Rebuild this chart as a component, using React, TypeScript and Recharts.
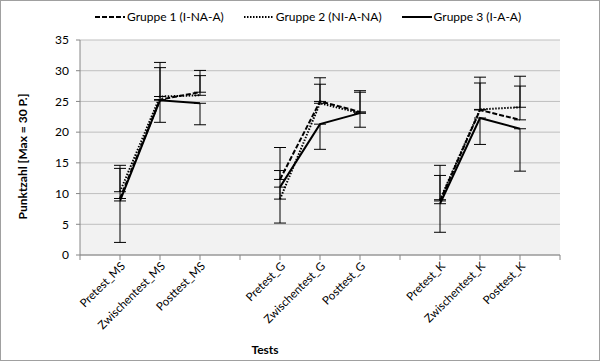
import { LineChart, Line, XAxis, YAxis, CartesianGrid, ErrorBar, Label } from 'recharts'

const categories = ['', 'Pretest_MS', 'Zwischentest_MS', 'Posttest_MS', '', 'Pretest_G', 'Zwischentest_G', 'Posttest_G', '', 'Pretest_K', 'Zwischentest_K', 'Posttest_K', '']
const gruppe1 = [null, 9.2, 25.3, 26.5, null, 12.3, 25.0, 23.3, null, 8.8, 23.6, 22.0, null]
const gruppe2 = [null, 10.3, 25.8, 26.0, null, 9.1, 24.7, 23.1, null, 9.0, 23.7, 24.05, null]
const gruppe3 = [null, 8.8, 25.2, 24.7, null, 11.05, 21.3, 23.1, null, 8.35, 22.3, 20.55, null]
// error bars: groups 1 and 2 plus only, group 3 minus only
const gruppe1Plus = [null, 5.4, 6.05, 3.55, null, 5.2, 3.85, 3.45, null, 5.8, 5.35, 7.1, null]
const gruppe2Plus = [null, 3.8, 4.7, 3.2, null, 4.65, 3.1, 3.4, null, 3.95, 4.3, 3.45, null]
const gruppe3Minus = [null, 6.75, 3.6, 3.5, null, 5.85, 4.1, 2.3, null, 4.65, 4.3, 6.9, null]
const yTicks = [0, 5, 10, 15, 20, 25, 30, 35]

const legendItems = [
  { label: 'Gruppe 1 (I-NA-A)', dash: '5 2' },
  { label: 'Gruppe 2 (NI-A-NA)', dash: '1.5 1.5' },
  { label: 'Gruppe 3 (I-A-A)', dash: undefined },
]

const data = categories.map((name, i) => ({
  name,
  g1: gruppe1[i],
  g2: gruppe2[i],
  g3: gruppe3[i],
  e1: gruppe1Plus[i] != null ? [0, gruppe1Plus[i]] : null,
  e2: gruppe2Plus[i] != null ? [0, gruppe2Plus[i]] : null,
  e3: gruppe3Minus[i] != null ? [gruppe3Minus[i], 0] : null,
}))

const FONT = 'Lato, sans-serif'
const AXIS = '#868686'

function RotatedTick({ x, y, payload }: any) {
  if (!payload.value) return null
  return (
    <text
      x={x + 3}
      y={y}
      transform={`rotate(-45 ${x + 3} ${y})`}
      textAnchor="end"
      dy="0.35em"
      fontSize={11.5}
      fontFamily={FONT}
      fill="#000"
    >
      {payload.value}
    </text>
  )
}

function YTitle({ viewBox }: any) {
  const cx = viewBox.x + 2
  const cy = viewBox.y + viewBox.height / 2 + 9
  return (
    <text
      x={cx}
      y={cy}
      transform={`rotate(-90 ${cx} ${cy})`}
      textAnchor="middle"
      dominantBaseline="central"
      fontSize={12}
      fontWeight="bold"
      fontFamily={FONT}
      fill="#000"
    >
      Punktzahl [Max = 30 P.]
    </text>
  )
}

export default function App() {
  return (
    <div style={{ position: 'absolute', left: 0, top: 0, width: 600, height: 361, boxSizing: 'border-box', border: '1px solid #a0a0a0', background: '#fff', fontFamily: FONT }}>
      <div style={{ position: 'absolute', top: 8, left: 94, display: 'flex', gap: 20, fontSize: 12 }}>
        {legendItems.map((it) => (
          <div key={it.label} style={{ display: 'flex', alignItems: 'center' }}>
            <svg width={30} height={10} style={{ marginRight: 2 }}>
              <line x1={0} y1={5} x2={30} y2={5} stroke="#000" strokeWidth={2} strokeDasharray={it.dash} />
            </svg>
            <span>{it.label}</span>
          </div>
        ))}
      </div>
      <div style={{ position: 'absolute', left: -1, top: -1 }}>
        <LineChart width={600} height={361} data={data} margin={{ top: 40, right: 40, bottom: 6, left: 20 }}>
          <CartesianGrid vertical={false} stroke="#bfbfbf" fill="#f2f2f2" />
          <XAxis
            dataKey="name"
            interval={0}
            height={100}
            tick={<RotatedTick />}
            tickSize={5}
            tickMargin={4}
            stroke={AXIS}
            tickLine={{ stroke: AXIS }}
          >
            <Label value="Tests" position="insideBottom" offset={0} dy={-1} dx={-55} fontSize={12} fontWeight="bold" fontFamily={FONT} fill="#000" />
          </XAxis>
          <YAxis
            domain={[0, 35]}
            ticks={yTicks}
            width={60}
            tickSize={4}
            tickMargin={7}
            stroke={AXIS}
            tick={{ fontSize: 12, fontFamily: FONT, fill: '#000' }}
          >
            <Label content={<YTitle />} />
          </YAxis>
          <Line dataKey="g1" stroke="#000" strokeWidth={2} strokeDasharray="5 2" dot={false} isAnimationActive={false}>
            <ErrorBar dataKey="e1" width={6} stroke="#000" strokeWidth={1} />
          </Line>
          <Line dataKey="g2" stroke="#000" strokeWidth={2} strokeDasharray="1.5 1.5" dot={false} isAnimationActive={false}>
            <ErrorBar dataKey="e2" width={6} stroke="#000" strokeWidth={1} />
          </Line>
          <Line dataKey="g3" stroke="#000" strokeWidth={2} dot={false} isAnimationActive={false}>
            <ErrorBar dataKey="e3" width={6} stroke="#000" strokeWidth={1} />
          </Line>
        </LineChart>
      </div>
    </div>
  )
}
